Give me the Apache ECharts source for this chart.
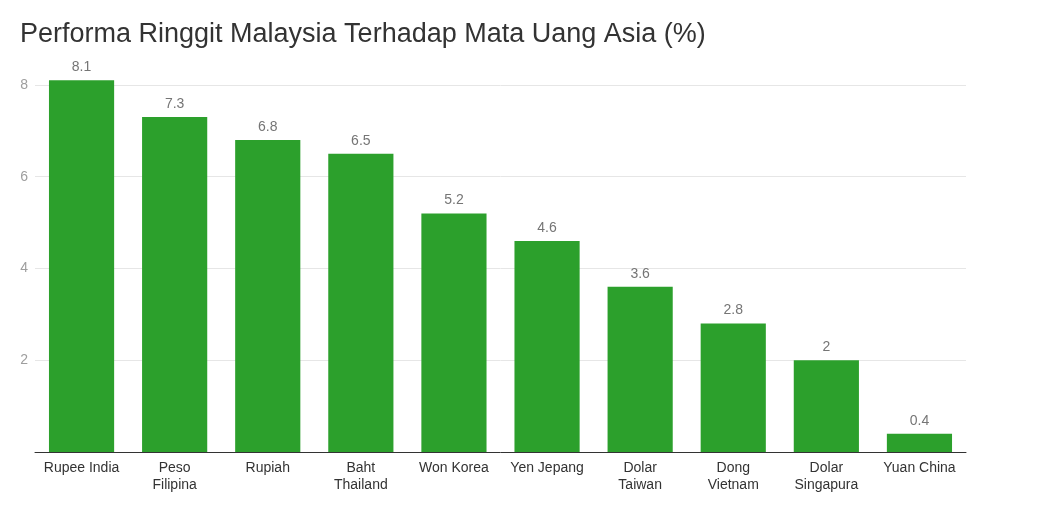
<!DOCTYPE html>
<html>
<head>
<meta charset="utf-8">
<script src="https://cdn.jsdelivr.net/npm/echarts@6/dist/echarts.min.js"></script>
<style>
  html, body { margin: 0; padding: 0; background: #fff; }
  #main { width: 1050px; height: 519px; }
</style>
</head>
<body>
<div id="main"></div>
<script>
const categories = ['Rupee India', 'Peso\nFilipina', 'Rupiah', 'Baht\nThailand', 'Won Korea',
  'Yen Jepang', 'Dolar\nTaiwan', 'Dong\nVietnam', 'Dolar\nSingapura', 'Yuan China'];
const values = [8.1, 7.3, 6.8, 6.5, 5.2, 4.6, 3.6, 2.8, 2, 0.4];
const yTicks = [0, 2, 4, 6, 8];

const chart = echarts.init(document.getElementById('main'));
const font = 'Arial, "Liberation Sans", sans-serif';

chart.setOption({
  animation: false,
  title: {
    text: 'Performa Ringgit Malaysia Terhadap Mata Uang Asia (%)',
    left: 15,
    top: 16,
    textStyle: { fontFamily: font, fontSize: 27, fontWeight: 'normal', color: '#333' }
  },
  grid: { left: 35, right: 84, top: 62, bottom: 67 },
  xAxis: {
    type: 'category',
    data: categories,
    axisLine: { lineStyle: { color: '#333', width: 1 } },
    axisTick: { show: false },
    axisLabel: {
      interval: 0,
      margin: 8,
      fontFamily: font,
      fontSize: 14,
      lineHeight: 17,
      color: '#333'
    }
  },
  yAxis: {
    type: 'value',
    min: 0,
    max: 8.5,
    interval: 2,
    axisLine: { show: false },
    axisTick: { show: false },
    splitLine: { showMaxLine: false, lineStyle: { color: '#e6e6e6' } },
    axisLabel: {
      showMinLabel: false,
      showMaxLabel: false,
      margin: 7,
      fontFamily: font,
      fontSize: 14,
      color: '#9e9e9e',
      formatter: v => (yTicks.indexOf(v) >= 0 ? String(v) : '')
    }
  },
  series: [{
    type: 'bar',
    data: values,
    barWidth: '70%',
    itemStyle: { color: '#2ca02c' },
    label: {
      show: true,
      position: 'top',
      distance: 6,
      fontFamily: font,
      fontSize: 14,
      color: '#757575'
    }
  }]
});
</script>
</body>
</html>
